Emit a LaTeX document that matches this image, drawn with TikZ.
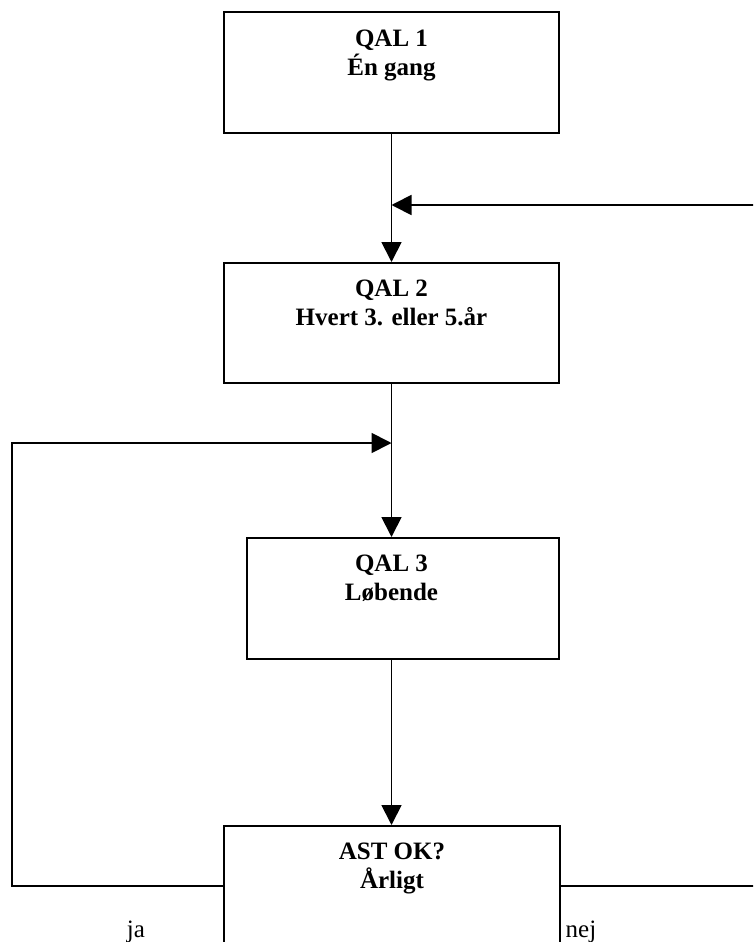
\documentclass[tikz,border=0pt]{standalone}
\usepackage{fontspec}
\setmainfont{Liberation Serif}
\usetikzlibrary{arrows.meta}
\usetikzlibrary{positioning}
\tikzset{box/.style = {draw, line width = 2pt, inner sep = 0, minimum width = 335, minimum height = 120}}
\tikzset{txt/.style = {inner sep = 0, align = center, anchor = north, font = \fontsize{25}{29}\selectfont\bfseries}}
\tikzset{lbl/.style = {inner sep = 0, anchor = base, font = \fontsize{25}{29}\selectfont}}
\tikzset{conn/.style = {line width = 1.8pt, -{Triangle[length = 20pt, width = 20pt]}}}

\begin{document}
\begin{tikzpicture}[x = 1pt, y = -1pt]
    \useasboundingbox (0, 0) rectangle (753, 942);
    \clip (0, 0) rectangle (753, 942);

    \node [box] (qal1) at (391.5, 72.5) {};
    \node [box] (qal2) at (391.5, 323) {};
    \node [box, minimum width = 312, minimum height = 121] (qal3) at (403, 598.5) {};
    \node [box, minimum width = 336] (ast) at (392, 886) {};

    \node [txt] at ([yshift = -18]qal1.north) {QAL 1\\Én gang};
    \node [txt] at ([yshift = -18]qal2.north) {QAL 2\\Hvert 3. eller 5.år};
    \node [txt] at ([yshift = -18]qal3.north -| qal2.south) {QAL 3\\Løbende};
    \node [txt] at ([yshift = -18]ast.north) {AST OK?\\Årligt};

    \node [lbl] (ja) at (136, 937) {ja};
    \node [lbl] (nej) at (581, 937) {nej};

    \coordinate (rtop) at (770, 205);
    \coordinate (lft) at (12, 443);

    \draw [conn] (qal1.south) -- (qal2.north);
    \draw [conn] (qal2.south) -- (qal2.south |- qal3.north);
    \draw [conn] (qal3.south -| qal2.south) -- (qal2.south |- ast.north);
    \draw [conn] (ast.west) -| (lft) -- (qal2.south |- lft);
    \draw [conn] (ast.east) -| (rtop) -- (qal1.south |- rtop);
  \end{tikzpicture}
\end{document}
